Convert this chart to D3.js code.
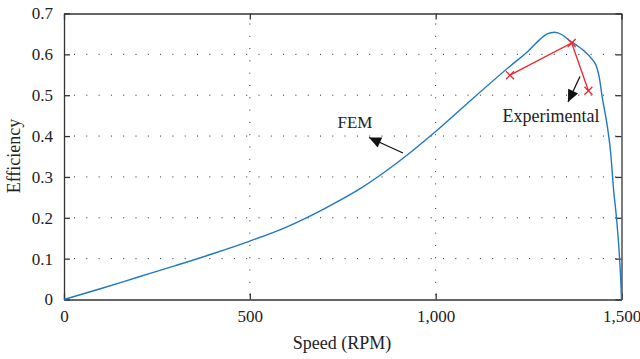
<!DOCTYPE html>
<html><head><meta charset="utf-8">
<script src="https://cdn.jsdelivr.net/npm/d3@7"></script>
<style>body{margin:0;background:#fff}svg{display:block}text{font-family:"Liberation Serif","DejaVu Serif",serif;fill:#222}</style>
</head><body><svg id="c" width="640" height="359"></svg>
<script>
const femSpeed = [0,100,200,300,400,500,600,700,800,900,1000,1100,1200,1250,1280,1300,1320,1340,1360,1380,1400,1420,1432,1440,1448,1462,1471,1478,1487,1494,1498,1500];
const femEff   = [0,0.027,0.055,0.083,0.112,0.143,0.178,0.222,0.273,0.337,0.411,0.492,0.571,0.609,0.636,0.650,0.654,0.648,0.634,0.622,0.608,0.589,0.572,0.545,0.496,0.423,0.358,0.276,0.195,0.113,0.048,0];
const expSpeed = [1200,1366,1411];
const expEff   = [0.549,0.628,0.511];
const xTicks = [0,500,1000,1500];
const yTicks = [0,0.1,0.2,0.3,0.4,0.5,0.6,0.7];

const svg = d3.select("#c");
const L=64,R=621.5,T=13.5,B=299.5;
const x = d3.scaleLinear().domain([0,1500]).range([L,R]);
const y = d3.scaleLinear().domain([0,0.7]).range([B,T]);
const fmtX = d3.format(",");
const fmtY = v => v===0 ? "0" : d3.format(".1f")(v);

// grid
const g = svg.append("g");
g.selectAll(".gy").data(yTicks.filter(v=>v>0&&v<0.7)).enter().append("line")
  .attr("x1",L).attr("x2",R).attr("y1",d=>y(d)).attr("y2",d=>y(d))
  .attr("stroke","#222").attr("stroke-width",1).attr("stroke-dasharray","1,11.3").attr("stroke-dashoffset",-10);
g.selectAll(".gx").data(xTicks.filter(v=>v>0&&v<1500)).enter().append("line")
  .attr("x1",d=>x(d)).attr("x2",d=>x(d)).attr("y1",T).attr("y2",B)
  .attr("stroke","#222").attr("stroke-width",1).attr("stroke-dasharray","1,11.3").attr("stroke-dashoffset",-10);

// axes
const axB = svg.append("g").attr("transform",`translate(0,${B})`).call(d3.axisBottom(x).tickValues(xTicks).tickFormat(fmtX).tickSizeInner(-6).tickSizeOuter(0).tickPadding(10));
const axL = svg.append("g").attr("transform",`translate(${L},0)`).call(d3.axisLeft(y).tickValues(yTicks).tickFormat(fmtY).tickSizeInner(-6).tickSizeOuter(0).tickPadding(11));
const axT = svg.append("g").attr("transform",`translate(0,${T})`).call(d3.axisTop(x).tickValues(xTicks).tickFormat("").tickSizeInner(-6).tickSizeOuter(0));
const axR = svg.append("g").attr("transform",`translate(${R},0)`).call(d3.axisRight(y).tickValues(yTicks).tickFormat("").tickSizeInner(-6).tickSizeOuter(0));
[axB,axL,axT,axR].forEach(a=>{a.select(".domain").attr("stroke","#333").attr("stroke-width",1.3);a.selectAll(".tick line").attr("stroke","#333").attr("stroke-width",1.3);a.selectAll("text").attr("font-size",17).attr("fill","#222").attr("font-family","Liberation Serif, serif");});

// FEM curve
const line = d3.line().x(d=>x(d[0])).y(d=>y(d[1])).curve(d3.curveMonotoneX);
svg.append("path").datum(femSpeed.map((s,i)=>[s,femEff[i]])).attr("d",line)
  .attr("fill","none").attr("stroke","#1f78c1").attr("stroke-width",1.4);

// experimental
const line2 = d3.line().x(d=>x(d[0])).y(d=>y(d[1]));
const exp = expSpeed.map((s,i)=>[s,expEff[i]]);
svg.append("path").datum(exp).attr("d",line2).attr("fill","none").attr("stroke","#f0262a").attr("stroke-width",1.3);
const s=4;
exp.forEach(p=>{
  const cx=x(p[0]),cy=y(p[1]);
  svg.append("path").attr("d",`M${cx-s},${cy-s}L${cx+s},${cy+s}M${cx-s},${cy+s}L${cx+s},${cy-s}`).attr("stroke","#f0262a").attr("stroke-width",1.3);
});

// annotations
function arrow(x1,y1,x2,y2){
  svg.append("line").attr("x1",x1).attr("y1",y1).attr("x2",x2).attr("y2",y2).attr("stroke","#111").attr("stroke-width",1.3);
  const a=Math.atan2(y2-y1,x2-x1),len=12,w=5.5;
  const bx=x2-len*Math.cos(a),by=y2-len*Math.sin(a);
  const nx=-Math.sin(a),ny=Math.cos(a);
  svg.append("path").attr("d",`M${x2},${y2}L${bx+nx*w},${by+ny*w}L${bx-nx*w},${by-ny*w}Z`).attr("fill","#111");
}
arrow(403,153,369,137.5);
arrow(580,76.5,568,102);
svg.append("text").attr("x",355).attr("y",128).attr("text-anchor","middle").attr("font-size",17).text("FEM");
svg.append("text").attr("x",551).attr("y",122).attr("text-anchor","middle").attr("font-size",18).text("Experimental");

svg.append("text").attr("x",342).attr("y",349).attr("text-anchor","middle").attr("font-size",18).text("Speed (RPM)");
svg.append("text").attr("transform","translate(20,156) rotate(-90)").attr("text-anchor","middle").attr("font-size",18).text("Efficiency");
</script></body></html>
